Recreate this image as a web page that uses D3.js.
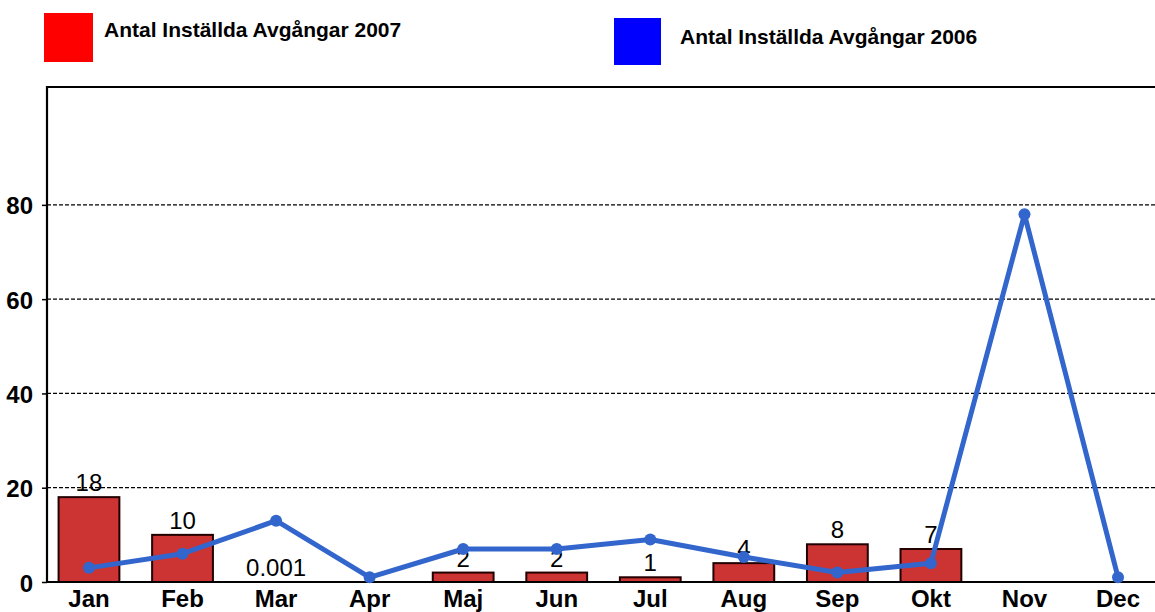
<!DOCTYPE html>
<html><head><meta charset="utf-8">
<script src="https://cdn.jsdelivr.net/npm/d3@7/dist/d3.min.js"></script>
<style>body{margin:0;background:#fff}svg{display:block;font-family:"Liberation Sans",Arial,sans-serif}</style>
</head><body><svg id="c" width="1155" height="612"></svg>
<script>
const months = ["Jan","Feb","Mar","Apr","Maj","Jun","Jul","Aug","Sep","Okt","Nov","Dec"];
const values2007 = [18,10,0.001,null,2,2,1,4,8,7,null,null];
const labels2007 = ["18","10","0.001",null,"2","2","1","4","8","7",null,null];
const values2006 = [3,6,13,1,7,7,9,5.3,2,4,78,1];
const yTicks = [0,20,40,60,80];
const seriesNames = ["Antal Inställda Avgångar 2007","Antal Inställda Avgångar 2006"];

const svg = d3.select("#c");
const x = d3.scaleBand().domain(months).range([42.2,1164.8]).paddingInner(0.35).paddingOuter(0.175);
const y = d3.scaleLinear().domain([0,105]).range([582,87]);
const axisX = 47;

// gridlines
svg.append("g").selectAll("line").data(yTicks.filter(d=>d>0)).join("line")
  .attr("x1",axisX).attr("x2",1155).attr("y1",d=>y(d)).attr("y2",d=>y(d))
  .attr("stroke","#000").attr("stroke-width",1.2).attr("stroke-dasharray","4,2");

// y axis
const ya = svg.append("g").attr("transform",`translate(${axisX},0)`)
  .call(d3.axisLeft(y).tickValues(yTicks).tickSize(5).tickPadding(9));
ya.select(".domain").remove();
ya.selectAll(".tick line").attr("stroke","#000").attr("stroke-width",1.5);
ya.selectAll(".tick text").attr("font-size",24).attr("font-weight","bold").attr("fill","#000")
  .attr("dy","0.38em").attr("font-family","Liberation Sans, Arial, sans-serif");

// bars
const barData = months.map((m,i)=>({m,v:values2007[i],l:labels2007[i]})).filter(d=>d.v!==null);
svg.append("g").selectAll("rect").data(barData).join("rect")
  .attr("x",d=>x(d.m)).attr("width",x.bandwidth())
  .attr("y",d=>y(d.v)).attr("height",d=>y(0)-y(d.v))
  .attr("fill","#CC3333").attr("stroke","#220000").attr("stroke-width",2);

// frame
svg.append("path").attr("d",`M${axisX},582V87H1155`).attr("fill","none").attr("stroke","#000").attr("stroke-width",2.2);
svg.append("line").attr("x1",axisX).attr("x2",1155).attr("y1",y(0)).attr("y2",y(0)).attr("stroke","#000").attr("stroke-width",2);

// value labels
svg.append("g").selectAll("text").data(barData).join("text")
  .attr("x",d=>x(d.m)+x.bandwidth()/2).attr("y",d=>y(d.v)-6)
  .attr("text-anchor","middle").attr("font-size",24).attr("fill","#000").text(d=>d.l);

// line 2006
const cx = m => x(m)+x.bandwidth()/2;
const lineData = months.map((m,i)=>({m,v:values2006[i]}));
svg.append("path").datum(lineData)
  .attr("d",d3.line().x(d=>cx(d.m)).y(d=>y(d.v)))
  .attr("fill","none").attr("stroke","#3366CC").attr("stroke-width",5).attr("stroke-linejoin","round");
svg.append("g").selectAll("circle").data(lineData).join("circle")
  .attr("cx",d=>cx(d.m)).attr("cy",d=>y(d.v)).attr("r",6).attr("fill","#3366CC");

// x labels
svg.append("g").selectAll("text").data(months).join("text")
  .attr("x",d=>cx(d)).attr("y",607).attr("text-anchor","middle")
  .attr("font-size",24).attr("font-weight","bold").attr("fill","#000").text(d=>d);

// legend
const leg = [{c:"#FF0000",x:44,y:13,s:49,tx:104,ty:37},{c:"#0000FF",x:614,y:18,s:47,tx:680,ty:44}];
leg.forEach((l,i)=>{
  svg.append("rect").attr("x",l.x).attr("y",l.y).attr("width",l.s).attr("height",l.s).attr("fill",l.c);
  svg.append("text").attr("x",l.tx).attr("y",l.ty).attr("font-size",21).attr("font-weight","bold").attr("fill","#000").text(seriesNames[i]);
});
</script></body></html>
